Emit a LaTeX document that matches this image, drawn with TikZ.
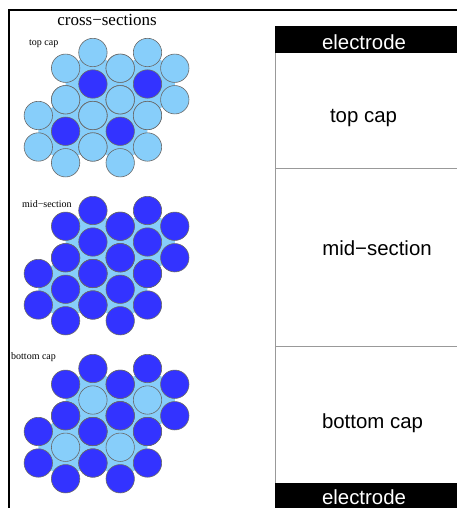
\documentclass[tikz,border=0pt]{standalone}
\usepackage{fontspec}
\setmainfont{Liberation Serif}
\newfontfamily\panelfont{Liberation Sans}
\definecolor{lightcell}{RGB}{135,206,250}
\definecolor{darkcell}{RGB}{51,51,255}
\definecolor{rim}{RGB}{105,105,105}

\tikzset{
	lite/.style={fill=lightcell,draw=rim,line width=0.6pt},
	dark/.style={fill=darkcell,draw=rim,line width=0.6pt},
	hexfill/.style={fill=lightcell},
	bar/.style={fill=black},
	wall/.style={draw=gray!80,line width=0.8pt},
	small/.style={font=\fontsize{10}{12}\selectfont,inner sep=0pt},
	zone/.style={font=\panelfont\fontsize{20.4}{24}\selectfont,inner sep=0pt,anchor=base}
}

\begin{document}
\begin{tikzpicture}[x=1pt,y=-1pt]
	\useasboundingbox (0,0) rectangle (457,508);
	\draw[line width=2pt][black](9,508)--(9,10)--(457,10);

	% cross-sections
	\node[font=\fontsize{17}{20}\selectfont,inner sep=0pt,anchor=base] (title) at (107,26) {cross−sections};
	\node[small,anchor=base west] (toplabel) at (29,46) {top cap};
	\node[small,anchor=base west] (midlabel) at (22,207) {mid−section};
	\node[small,anchor=base west] (botlabel) at (11,359) {bottom cap};

	\foreach \y/\outer/\inner in {84/lite/dark, 242/dark/dark, 400/dark/lite} {
		\foreach \cx/\cy in {92.9/0, 147.5/0, 65.6/47.25, 120.2/47.25}
			\fill[hexfill,shift={(\cx,\y+\cy)}] (90:31.5)--(30:31.5)--(-30:31.5)--(-90:31.5)--(-150:31.5)--(150:31.5)--cycle;
		\foreach \cx/\cy in {92.9/0, 147.5/0, 65.6/47.25, 120.2/47.25} {
			\foreach \a in {90,30,-30,-90,-150,150}
				\draw[\outer,shift={(\cx,\y+\cy)}] (\a:31.5) circle [radius=14.2];
			\draw[\inner] (\cx,\y+\cy) circle [radius=14.2];
		}
	}

	% layer stack
	\fill[bar](275,26) rectangle (457,53);
	\fill[bar](275,483) rectangle (457,508);
	\draw[wall](275,53)--(275,483);
	\draw[wall](275,168)--(457,168);
	\draw[wall](275,346)--(457,346);
	\node[zone,text=white] (topelectrode) at (364,50) {electrode};
	\node[zone,text=white] (botelectrode) at (364,504.5) {electrode};
	\node[zone] (topzone) at (363.5,122) {top cap};
	\node[zone] (midzone) at (377,255) {mid−section};
	\node[zone] (botzone) at (372.5,428) {bottom cap};

\end{tikzpicture}
\end{document}
